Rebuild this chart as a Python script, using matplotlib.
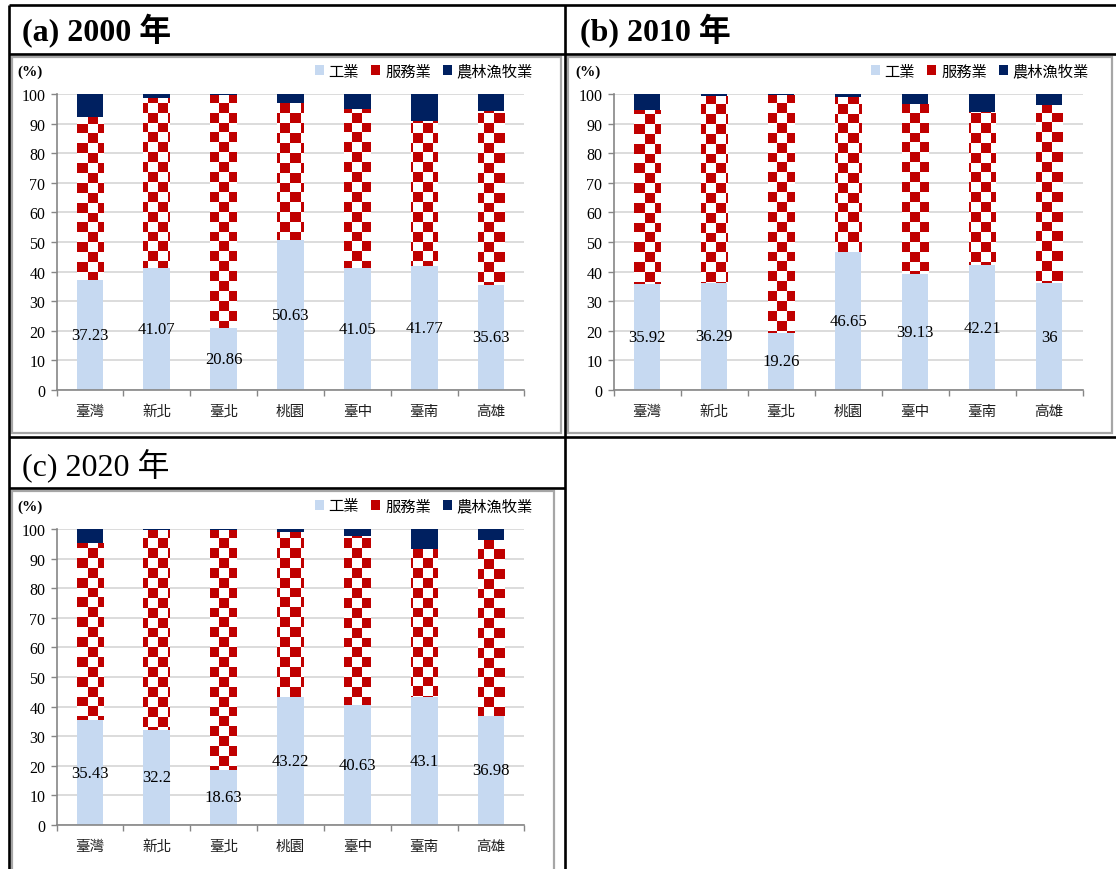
import matplotlib
matplotlib.use("Agg")
import matplotlib.pyplot as plt
import numpy as np
from matplotlib.patches import Rectangle, Patch
from matplotlib.lines import Line2D
from matplotlib.font_manager import FontProperties

# ---- data: employment share by sector (%) ----
regions = ["臺灣", "新北", "臺北", "桃園", "臺中", "臺南", "高雄"]
sectors = ["工業", "服務業", "農林漁牧業"]

industry_2000 = [37.23, 41.07, 20.86, 50.63, 41.05, 41.77, 35.63]
agri_2000 = [7.8, 1.4, 0.4, 3.2, 5.1, 9.1, 5.9]
services_2000 = [54.97, 57.53, 78.74, 46.17, 53.85, 49.13, 58.47]

industry_2010 = [35.92, 36.29, 19.26, 46.65, 39.13, 42.21, 36]
agri_2010 = [5.3, 0.6, 0.3, 1.1, 3.4, 6.0, 3.8]
services_2010 = [58.78, 63.11, 80.44, 52.25, 57.47, 51.79, 60.2]

industry_2020 = [35.43, 32.2, 18.63, 43.22, 40.63, 43.1, 36.98]
agri_2020 = [4.7, 0.5, 0.2, 1.0, 2.5, 6.9, 3.6]
services_2020 = [59.87, 67.3, 81.17, 55.78, 56.87, 50.0, 59.42]

titles = ["(a) 2000 年", "(b) 2010 年", "(c) 2020 年"]
yticks = list(range(0, 101, 10))

# ---- styling ----
W, H = 1116, 870
C_IND = "#c6d9f1"
C_SVC = "#c00000"
C_AGR = "#002060"
GRID = "#d9d9d9"
SPINE = "#868686"
SERIF = "Liberation Serif"
CJK = "Noto Sans CJK TC"

fig = plt.figure(figsize=(W / 100, H / 100), dpi=100)
fig.patch.set_facecolor("white")

# full-figure overlay in pixel coordinates for the table frame and titles
ov = fig.add_axes([0, 0, 1, 1], zorder=0)
ov.set_xlim(0, W)
ov.set_ylim(H, 0)
ov.axis("off")

def hline(y, x0, x1):
    ov.add_line(Line2D([x0, x1], [y, y], color="black", lw=1.9, solid_capstyle="butt"))

def vline(x, y0, y1):
    ov.add_line(Line2D([x, x], [y0, y1], color="black", lw=1.9, solid_capstyle="butt"))

hline(6, 9, W)
hline(55, 9, W)
hline(438, 9, W)
hline(489, 9, 565)
vline(9, 6, H)
vline(565, 6, H)

# chart boxes
boxes = [(12, 58, 561, 434), (568, 58, 1112, 434), (12, 492, 554, 880)]
for (l, t, r, b) in boxes:
    ov.add_patch(Rectangle((l, t), r - l, b - t, facecolor="white",
                           edgecolor="#a6a6a6", lw=1.6))

title_pos = [(22, 31), (580, 31), (22, 466)]
for k, (tx, ty) in enumerate(title_pos):
    ov.text(tx, ty, titles[k], family=[SERIF, CJK], fontsize=23,
            fontweight="bold" if k < 2 else "normal", va="center", ha="left")

# plot areas (pixels: left, top, right, bottom)
plot_px = [(56.6, 95, 524.4, 391), (613.5, 95, 1082.5, 391), (56.6, 530, 524.4, 826)]
unit_px = [(30, 72), (588, 72), (30, 507)]
legend_px = [(533, 72), (1089, 72), (533, 507)]

datasets = [
    (industry_2000, services_2000, agri_2000),
    (industry_2010, services_2010, agri_2010),
    (industry_2020, services_2020, agri_2020),
]

# checkerboard fill for the services segment
n_cols, n_rows = 46, 30
ii, jj = np.meshgrid(np.arange(n_cols), np.arange(n_rows))
mask = ((ii + jj) % 2 == 0)
red = np.array([0xc0, 0x00, 0x00]) / 255.0
checker = np.ones((n_rows, n_cols, 3))
checker[mask] = red

x = np.arange(len(regions))
bw = 0.40

for k, (l, t, r, b) in enumerate(plot_px):
    ax = fig.add_axes([l / W, 1 - b / H, (r - l) / W, (b - t) / H], zorder=2)
    ax.set_facecolor("none")
    ind, svc, agr = (np.array(a, dtype=float) for a in datasets[k])

    ax.bar(x, ind, bw, color=C_IND, zorder=2)
    svc_bars = ax.bar(x, svc, bw, bottom=ind, color="white", zorder=2)
    ax.bar(x, agr, bw, bottom=ind + svc, color=C_AGR, zorder=2)

    for p in svc_bars.patches:
        im = ax.imshow(checker, extent=(-0.5, 6.5, 0, 100), aspect="auto",
                       interpolation="antialiased", origin="lower", zorder=2.5)
        im.set_clip_path(p)

    for i, v in enumerate(ind):
        ax.text(i, v / 2, f"{v:g}", ha="center", va="center",
                family=SERIF, fontsize=12, zorder=4)

    ax.set_xlim(-0.5, 6.5)
    ax.set_ylim(0, 100)
    ax.set_yticks(yticks)
    ax.set_yticklabels([str(v) for v in yticks], family=SERIF, fontsize=11.5)
    ax.yaxis.grid(True, color=GRID, lw=1.3, zorder=0)
    ax.set_axisbelow(True)
    ax.set_xticks(x)
    ax.set_xticklabels(regions, family=CJK, fontsize=10.5, color="#202020")
    ax.set_xticks(np.arange(-0.5, 7.0, 1.0), minor=True)
    ax.tick_params(axis="x", which="major", length=0, pad=10)
    ax.tick_params(axis="x", which="minor", length=4, color=SPINE, width=1)
    ax.tick_params(axis="y", length=4, color=SPINE, width=1, pad=4)
    for s in ("top", "right"):
        ax.spines[s].set_visible(False)
    for s in ("left", "bottom"):
        ax.spines[s].set_color(SPINE)
        ax.spines[s].set_linewidth(1.2)

    ux, uy = unit_px[k]
    ov.text(ux, uy, "(%)", family=SERIF, fontsize=11, fontweight="bold",
            ha="center", va="center")

    handles = [Patch(facecolor=C_IND), Patch(facecolor=C_SVC), Patch(facecolor=C_AGR)]
    lx, ly = legend_px[k]
    ax.legend(handles, sectors, loc="center right", bbox_to_anchor=(lx, ly),
              bbox_transform=ov.transData, ncol=3, frameon=False,
              prop=FontProperties(family=CJK, size=11),
              handlelength=0.6, handleheight=0.6, handletextpad=0.3,
              columnspacing=0.8, borderpad=0, borderaxespad=0)

fig.savefig("out.png", dpi=100, facecolor="white")
